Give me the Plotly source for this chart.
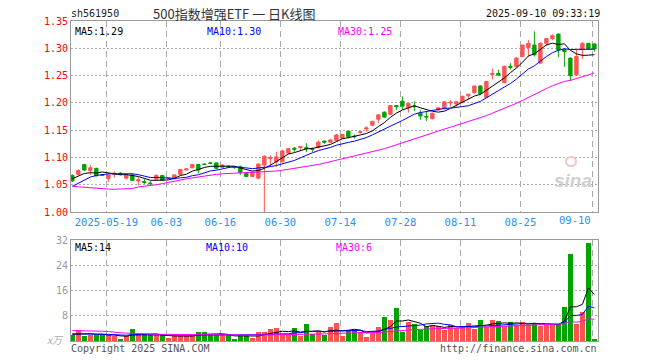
import plotly.graph_objects as go
import pandas as pd
import numpy as np

# ---------------- data ----------------
dates = [d.strftime("%Y-%m-%d") for d in pd.bdate_range("2025-05-09", "2025-09-10")
         if d.strftime("%Y-%m-%d") not in ("2025-06-02",)]

open_ = [1.067, 1.069, 1.087, 1.076, 1.080, 1.068, 1.061, 1.069, 1.071, 1.062,
         1.068, 1.057, 1.056, 1.053, 1.060, 1.067, 1.062, 1.061, 1.069, 1.077,
         1.081, 1.087, 1.088, 1.090, 1.090, 1.082, 1.084, 1.083, 1.083, 1.071,
         1.065, 1.062, 1.086, 1.098, 1.092, 1.092, 1.108, 1.117, 1.118, 1.118,
         1.116, 1.118, 1.130, 1.128, 1.131, 1.135, 1.148, 1.139, 1.146, 1.152,
         1.159, 1.170, 1.183, 1.179, 1.195, 1.203, 1.191, 1.194, 1.181, 1.175,
         1.171, 1.187, 1.189, 1.200, 1.198, 1.201, 1.213, 1.219, 1.231, 1.210,
         1.252, 1.254, 1.237, 1.267, 1.266, 1.285, 1.301, 1.306, 1.273, 1.309,
         1.318, 1.326, 1.298, 1.282, 1.251, 1.298, 1.309, 1.308]
high = [1.069, 1.078, 1.088, 1.086, 1.081, 1.070, 1.069, 1.074, 1.073, 1.069,
        1.070, 1.064, 1.061, 1.057, 1.069, 1.068, 1.064, 1.068, 1.078, 1.080,
        1.088, 1.088, 1.089, 1.092, 1.091, 1.087, 1.085, 1.084, 1.085, 1.072,
        1.074, 1.089, 1.104, 1.104, 1.110, 1.114, 1.117, 1.119, 1.121, 1.126,
        1.118, 1.131, 1.131, 1.134, 1.143, 1.143, 1.149, 1.142, 1.148, 1.157,
        1.167, 1.179, 1.184, 1.196, 1.196, 1.212, 1.200, 1.203, 1.187, 1.184,
        1.182, 1.191, 1.202, 1.205, 1.202, 1.213, 1.216, 1.231, 1.232, 1.239,
        1.263, 1.261, 1.268, 1.273, 1.284, 1.306, 1.315, 1.331, 1.311, 1.319,
        1.326, 1.327, 1.300, 1.283, 1.297, 1.311, 1.310, 1.309]
low = [1.055, 1.067, 1.075, 1.068, 1.066, 1.066, 1.055, 1.063, 1.067, 1.060,
       1.057, 1.049, 1.051, 1.049, 1.058, 1.058, 1.060, 1.060, 1.068, 1.076,
       1.080, 1.071, 1.086, 1.088, 1.078, 1.081, 1.081, 1.079, 1.068, 1.064,
       1.064, 1.060, 1.000, 1.083, 1.083, 1.091, 1.106, 1.110, 1.112, 1.110,
       1.110, 1.117, 1.125, 1.127, 1.129, 1.134, 1.135, 1.135, 1.144, 1.147,
       1.158, 1.163, 1.172, 1.178, 1.187, 1.187, 1.182, 1.185, 1.169, 1.167,
       1.170, 1.186, 1.188, 1.193, 1.193, 1.200, 1.207, 1.217, 1.214, 1.209,
       1.243, 1.249, 1.236, 1.261, 1.265, 1.284, 1.285, 1.285, 1.272, 1.304,
       1.315, 1.284, 1.266, 1.240, 1.249, 1.280, 1.298, 1.294]
close = [1.057, 1.076, 1.077, 1.081, 1.066, 1.067, 1.068, 1.071, 1.069, 1.068,
         1.058, 1.059, 1.054, 1.052, 1.067, 1.058, 1.063, 1.068, 1.078, 1.079,
         1.087, 1.077, 1.087, 1.089, 1.080, 1.086, 1.083, 1.082, 1.072, 1.065,
         1.073, 1.088, 1.102, 1.100, 1.101, 1.112, 1.116, 1.115, 1.120, 1.116,
         1.115, 1.128, 1.128, 1.132, 1.141, 1.142, 1.138, 1.138, 1.147, 1.154,
         1.166, 1.178, 1.174, 1.195, 1.193, 1.194, 1.199, 1.193, 1.176, 1.174,
         1.181, 1.191, 1.202, 1.201, 1.202, 1.212, 1.216, 1.231, 1.217, 1.239,
         1.254, 1.251, 1.267, 1.265, 1.282, 1.306, 1.309, 1.288, 1.309, 1.318,
         1.323, 1.297, 1.294, 1.250, 1.285, 1.309, 1.299, 1.299]
volume = [1.8, 3.4, 1.5, 2.0, 2.0, 2.0, 2.0, 1.5, 0.6, 1.5,
          3.7, 2.2, 1.8, 1.8, 1.8, 1.8, 1.0, 1.6, 1.6, 1.6,
          2.0, 2.8, 2.8, 1.8, 1.8, 2.2, 1.8, 0.5, 1.8, 1.8,
          1.0, 2.8, 2.8, 3.7, 4.0, 2.2, 2.2, 4.0, 1.7, 5.3,
          2.3, 2.8, 2.0, 4.3, 5.6, 1.5, 3.6, 3.6, 2.8, 1.2,
          2.8, 4.3, 7.5, 6.6, 10.4, 2.9, 5.9, 5.3, 3.6, 4.8,
          5.0, 4.6, 3.5, 5.2, 4.2, 4.6, 5.6, 3.8, 6.6, 4.5,
          6.6, 6.3, 4.7, 5.9, 5.2, 5.9, 5.2, 5.4, 4.9, 5.3,
          5.3, 5.3, 10.7, 27.6, 5.3, 9.1, 31.1, 0.5]

# moving-average values at the left edge (their windows start before the chart)
ma5_head = [1.061, 1.066, 1.0705, 1.072]
ma10_head = [1.047, 1.053, 1.059, 1.064, 1.067, 1.069, 1.070, 1.070, 1.070]
ma30_head = [1.047, 1.046, 1.045, 1.0447, 1.044, 1.043, 1.042, 1.0417, 1.0417, 1.0417,
             1.043, 1.046, 1.047, 1.048, 1.050, 1.052, 1.0545, 1.057, 1.059, 1.0607,
             1.0625, 1.0643, 1.066, 1.068, 1.069, 1.070, 1.0705, 1.071, 1.0717]
vma5_head = [2.1, 2.2, 2.1, 2.3]
vma10_head = [2.3, 2.3, 2.3, 2.2, 2.2, 2.1, 2.1, 2.0, 1.9]
vma30_head = [3.3, 3.3, 3.3, 3.3, 3.1, 3.1, 3.0, 2.7, 2.6, 2.5,
              2.4, 2.3, 2.3, 2.2, 2.2, 2.1, 2.1, 2.1, 2.1, 2.1,
              2.1, 2.1, 2.1, 2.1, 2.1, 2.0, 2.0, 2.0, 2.0]

tick_labels = {"2025-05-19": "2025-05-19", "2025-06-03": "06-03", "2025-06-16": "06-16",
               "2025-06-30": "06-30", "2025-07-14": "07-14", "2025-07-28": "07-28",
               "2025-08-11": "08-11", "2025-08-25": "08-25", "2025-09-10": "09-10"}

# ---------------- derived ----------------
n = len(close)
idx = list(range(n))


def ma(values, win, head):
    m = pd.Series(values).rolling(win).mean().to_numpy()
    m[:len(head)] = head
    return m


ma5, ma10, ma30 = ma(close, 5, ma5_head), ma(close, 10, ma10_head), ma(close, 30, ma30_head)
vma5, vma10, vma30 = ma(volume, 5, vma5_head), ma(volume, 10, vma10_head), ma(volume, 30, vma30_head)

RED, GREEN = "#FF5353", "#00A300"
bar_colors = [RED if c >= o else GREEN for o, c in zip(open_, close)]

tick_pos = [dates.index(d) - 0.33 for d in tick_labels]
tick_txt = list(tick_labels.values())
tick_txt_axis = tick_txt[:-1] + [""]

# layout geometry (pixels)
W, H = 660, 360
L, R, T, B = 71, 62, 21, 19
PW, PH = W - L - R, H - T - B


def px(x):
    return (x - L) / PW


def py(y):
    return (H - B - y) / PH


MONO = "DejaVu Sans Mono"

fig = go.Figure()
fig.add_trace(go.Candlestick(
    x=idx, open=open_, high=high, low=low, close=close,
    increasing=dict(line=dict(color=RED, width=1), fillcolor=RED),
    decreasing=dict(line=dict(color=GREEN, width=1), fillcolor=GREEN),
    whiskerwidth=0, hoverinfo="skip", xaxis="x", yaxis="y", showlegend=False))
for m, col in ((ma5, "#000000"), (ma10, "#0000FF"), (ma30, "#FF00FF")):
    fig.add_trace(go.Scatter(x=idx, y=m, mode="lines", line=dict(color=col, width=1),
                             hoverinfo="skip", xaxis="x", yaxis="y", showlegend=False))

fig.add_trace(go.Bar(x=idx, y=volume, width=0.8, marker=dict(color=bar_colors, line=dict(width=0)),
                     hoverinfo="skip", xaxis="x2", yaxis="y2", showlegend=False))
for m, col in ((vma5, "#000000"), (vma10, "#0000FF"), (vma30, "#FF00FF")):
    fig.add_trace(go.Scatter(x=idx, y=m, mode="lines", line=dict(color=col, width=1),
                             hoverinfo="skip", xaxis="x2", yaxis="y2", showlegend=False))

xr = [-0.22, 87.6]
common_x = dict(range=xr, tickmode="array", tickvals=tick_pos, showgrid=True,
                gridcolor="#AAAAAA", griddash="6px,4px", gridwidth=1, zeroline=False,
                showline=True, mirror=True, linecolor="#999999", linewidth=1, ticks="")
common_y = dict(showgrid=True, gridcolor="#AAAAAA", griddash="2px,2px", gridwidth=1,
                zeroline=False, showline=True, mirror=True, linecolor="#999999",
                linewidth=1, ticks="")

price_bottom = py(212)
vol_top = py(240)

fig.update_layout(
    width=W, height=H, margin=dict(l=L, r=R, t=T, b=B),
    paper_bgcolor="white", plot_bgcolor="white", boxgap=0.2, bargap=0,
    hovermode=False,
    xaxis=dict(**common_x, ticktext=tick_txt_axis, domain=[0, 1], anchor="y",
               tickfont=dict(family=MONO, size=10.5, color="#1E90FF"),
               rangeslider=dict(visible=False)),
    yaxis=dict(**common_y, domain=[price_bottom, 1], range=[1.00, 1.35], tick0=1.0,
               dtick=0.05, tickformat=".2f", anchor="x",
               tickfont=dict(family=MONO, size=10, color="#FF0000")),
    xaxis2=dict(**common_x, ticktext=[""] * len(tick_pos), showticklabels=False,
                domain=[0, 1], anchor="y2"),
    yaxis2=dict(**common_y, domain=[0, vol_top], range=[0, 32], tickvals=[8, 16, 24, 32],
                anchor="x2", tickfont=dict(family=MONO, size=10, color="#999999")),
)

ann = []


def text(x, y, s, color, size=10, family=MONO, xanchor="left", **kw):
    ann.append(dict(x=px(x), y=py(y), xref="paper", yref="paper", text=s, showarrow=False,
                    xanchor=xanchor, yanchor="middle",
                    font=dict(family=family, size=size, color=color), **kw))


text(69, 13, "sh561950", "#222222")
text(234, 13, "500指数增强ETF 一 日K线图", "#333333", size=13,
     family="Noto Sans CJK SC", xanchor="center")
text(602, 13, "2025-09-10 09:33:19", "#111111", xanchor="right")

text(73, 31, "MA5:%.2f" % ma5[-1], "#000000")
text(205, 31, "MA10:%.2f" % ma10[-1], "#0000FF")
text(336, 31, "MA30:%.2f" % ma30[-1], "#FF00FF")

text(73, 247, "MA5:%d" % int(vma5[-1]), "#000000")
text(204, 247, "MA10:%d" % int(vma10[-1]), "#0000FF")
text(334, 247, "MA30:%d" % int(vma30[-1]), "#FF00FF")

text(66, 339, "<i>x万</i>", "#AAAAAA", size=10, family="Noto Sans CJK SC", xanchor="right")
text(69, 348, "Copyright 2025 SINA.COM", "#555555")
text(599, 348, "http://finance.sina.com.cn", "#555555", xanchor="right")

# last date label sits to the left of its grid line
ann.append(dict(x=tick_pos[-1] + 0.1, y=py(220), xref="x", yref="paper", text=tick_txt[-1],
                showarrow=False, xanchor="right", yanchor="middle",
                font=dict(family=MONO, size=10.5, color="#1E90FF")))

# sina watermark
text(573, 180, "<b><i>sina</i></b>", "#CFCFCF", size=19, family="Liberation Sans",
     xanchor="center")
fig.update_layout(annotations=ann)
fig.add_shape(type="circle", xref="paper", yref="paper",
              x0=px(566), x1=px(576), y0=py(166), y1=py(157),
              line=dict(color="#F3C4C4", width=2), fillcolor="rgba(0,0,0,0)")

fig.write_html("out.html", config={"displayModeBar": False, "staticPlot": True},
               post_script="document.body.style.margin='0';")
